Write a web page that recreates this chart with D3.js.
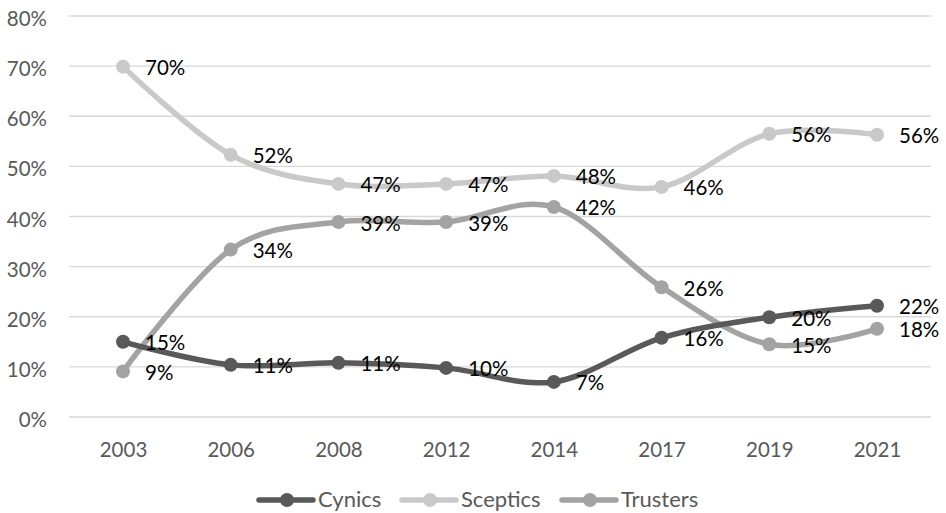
<!DOCTYPE html>
<html><head><meta charset="utf-8">
<script src="https://cdn.jsdelivr.net/npm/d3@7"></script>
<style>body{margin:0;background:#fff}svg{display:block}</style>
</head><body>
<script>
const years = ["2003","2006","2008","2012","2014","2017","2019","2021"];
const cynics   = [15.0, 10.4, 10.8, 9.8, 7.0, 15.8, 19.9, 22.2];
const sceptics = [69.9, 52.3, 46.5, 46.5, 48.1, 45.9, 56.5, 56.3];
const trusters = [9.1, 33.4, 38.9, 38.9, 41.9, 25.9, 14.5, 17.6];
const cynicsLabels   = ["15%","11%","11%","10%","7%","16%","20%","22%"];
const scepticsLabels = ["70%","52%","47%","47%","48%","46%","56%","56%"];
const trustersLabels = ["9%","34%","39%","39%","42%","26%","15%","18%"];
const seriesNames = ["Cynics","Sceptics","Trusters"];
const yTicks = [0,10,20,30,40,50,60,70,80];

const W=946,H=513;
const svg=d3.select("body").append("svg").attr("width",W).attr("height",H);
const font="Lato, 'Open Sans', sans-serif";
const x=d3.scalePoint().domain(years).range([123,877]);
const y=d3.scaleLinear().domain([0,80]).range([417,16]);

// gridlines
svg.append("g").selectAll("line").data(yTicks).join("line")
  .attr("x1",69).attr("x2",931).attr("y1",d=>y(d)).attr("y2",d=>y(d))
  .attr("stroke","#d9d9d9").attr("stroke-width",1.3);

// y axis labels
const yAxis=d3.axisLeft(y).tickValues(yTicks).tickFormat(d=>d+"%").tickSize(0).tickPadding(0);
const ya=svg.append("g").attr("transform","translate(47,0)").call(yAxis);
ya.select(".domain").remove();
ya.selectAll("text").attr("font-family",font).attr("font-size",20.5).attr("fill","#595959")
  .attr("dy",null).attr("y",9.5);

const xAxis=d3.axisBottom(x).tickSize(0).tickPadding(0);
const xa=svg.append("g").attr("transform","translate(0,457)").call(xAxis);
xa.select(".domain").remove();
xa.selectAll("text").attr("font-family",font).attr("font-size",20.5).attr("fill","#595959")
  .attr("dy",null).attr("y",0);

const series=[
  {name:"Cynics",vals:cynics,labels:cynicsLabels,color:"#595959"},
  {name:"Sceptics",vals:sceptics,labels:scepticsLabels,color:"#c9c9c9"},
  {name:"Trusters",vals:trusters,labels:trustersLabels,color:"#a3a3a3"}
];
const line=d3.line().x((d,i)=>x(years[i])).y(d=>y(d)).curve(d3.curveCatmullRom.alpha(0));
const order=[1,2,0];
order.forEach(k=>{
  const s=series[k];
  const g=svg.append("g");
  g.append("path").attr("d",line(s.vals)).attr("fill","none").attr("stroke",s.color).attr("stroke-width",5.5).attr("stroke-linecap","round");
  g.selectAll("circle").data(s.vals).join("circle")
    .attr("cx",(d,i)=>x(years[i])).attr("cy",d=>y(d)).attr("r",7).attr("fill",s.color);
});
// labels on top
series.forEach(s=>{
  svg.append("g").selectAll("text").data(s.vals).join("text")
    .attr("x",(d,i)=>x(years[i])+22).attr("y",d=>y(d)+8.5)
    .attr("font-family",font).attr("font-size",20.5).attr("fill","#000")
    .text((d,i)=>s.labels[i]);
});

// legend
const legX=[259,402,562];
series.forEach((s,i)=>{
  const g=svg.append("g").attr("transform",`translate(${legX[i]},500)`);
  g.append("line").attr("x1",0).attr("x2",54).attr("y1",0).attr("y2",0).attr("stroke",s.color).attr("stroke-width",5.5).attr("stroke-linecap","round");
  g.append("circle").attr("cx",28).attr("cy",0).attr("r",7).attr("fill",s.color);
  g.append("text").attr("x",59).attr("y",6.5)
    .attr("font-family",font).attr("font-size",22).attr("fill","#595959").text(s.name);
});
</script>
</body></html>
